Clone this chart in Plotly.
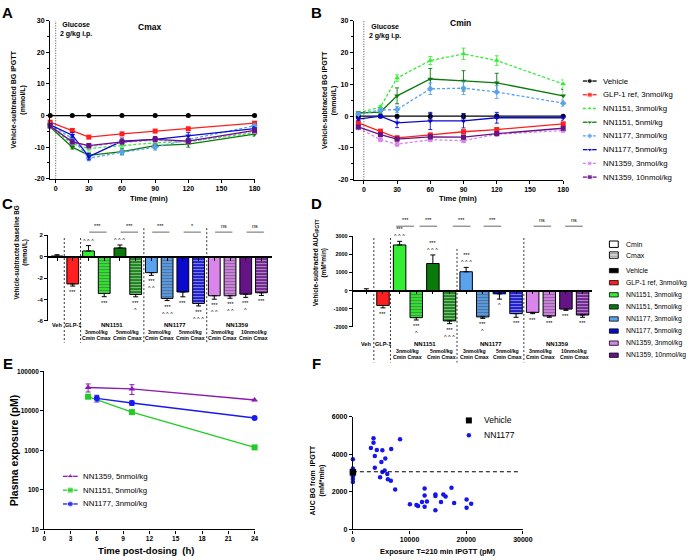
import plotly.graph_objects as go

FONT = "Liberation Sans, Arial, Helvetica, sans-serif"
W, H = 700, 560

# ======================= DATA =======================
time_min = [-5, 15, 30, 60, 90, 120, 180]

group_names = ["Vehicle", "GLP-1 ref, 3nmol/kg", "NN1151, 3nmol/kg", "NN1151, 5nml/kg",
               "NN1177, 3nmol/kg", "NN1177, 5nmol/kg", "NN1359, 3nmol/kg", "NN1359, 10nmol/kg"]
bar_legend_names = ["Vehicle", "GLP-1 ref, 3nmol/kg", "NN1151, 3nmol/kg", "NN1151, 5nmol/kg",
                    "NN1177, 3nmol/kg", "NN1177, 5nmol/kg", "NN1359, 3nmol/kg", "NN1359, 10nmol/kg"]
group_colors = ["#000000", "#FF1F1F", "#33EE33", "#0B7A0B", "#5AA2EE", "#0A0ACF", "#D985EC", "#651487"]
hatch_colors = ["#000000", "#B00000", "#0FA00F", "#024002", "#1E5FB0", "#00006E", "#F7D6FC", "#36074A"]
group_symbols = ["circle", "square", "triangle-up", "triangle-down", "diamond", "triangle-down", "circle", "square"]
group_dashed = [False, False, True, False, True, False, True, False]

# Panel A: Cmax IPGTT, vehicle-subtracted BG (mmol/L)
bg_cmax = [
    [0, 0, 0, 0, 0, 0, 0],
    [-2.1, -4.7, -6.8, -5.8, -4.9, -4.2, -2.4],
    [-3.4, -9.0, -10.4, -9.4, -8.6, -8.2, -5.5],
    [-3.6, -10.0, -12.6, -11.4, -9.5, -9.0, -5.9],
    [-3.0, -7.2, -13.5, -11.6, -10.0, -7.6, -3.2],
    [-2.9, -6.2, -13.0, -8.1, -7.5, -6.4, -4.1],
    [-3.5, -8.6, -9.8, -8.5, -7.8, -8.3, -5.0],
    [-3.3, -8.3, -9.5, -8.3, -7.5, -8.1, -4.7],
]
bg_cmax_err = [
    [0.3, 0.3, 0.3, 0.3, 0.3, 0.3, 0.3],
    [0.3, 0.5, 0.5, 0.5, 0.5, 0.5, 0.4],
    [0.4, 0.6, 0.8, 0.8, 0.8, 0.8, 0.6],
    [0.4, 0.6, 0.8, 0.9, 1.0, 1.0, 0.6],
    [0.4, 0.6, 0.8, 0.9, 0.9, 0.9, 0.6],
    [0.4, 0.8, 1.0, 1.0, 0.9, 1.0, 0.6],
    [0.4, 0.6, 0.7, 0.7, 0.7, 0.7, 0.5],
    [0.4, 0.6, 0.7, 0.7, 0.7, 0.7, 0.5],
]

# Panel B: Cmin IPGTT, vehicle-subtracted BG (mmol/L)
bg_cmin = [
    [0, 0, 0, 0, 0, 0, 0],
    [-2.1, -4.7, -6.8, -5.9, -4.9, -4.2, -2.4],
    [1.0, 2.9, 12.0, 17.5, 19.6, 17.5, 10.1],
    [1.0, 1.3, 6.4, 11.7, 11.1, 10.5, 6.4],
    [0.7, 1.9, 2.1, 8.6, 8.8, 7.6, 4.1],
    [-0.9, 0.0, -2.1, -1.5, -1.5, -0.5, -0.5],
    [-3.7, -7.4, -8.8, -7.4, -7.7, -5.7, -4.5],
    [-3.4, -5.8, -7.2, -6.5, -6.6, -5.5, -3.8],
]
bg_cmin_err = [
    [0.3, 0.3, 0.3, 0.9, 0.8, 0.6, 0.3],
    [0.3, 0.5, 0.5, 0.5, 0.5, 0.5, 0.4],
    [0.3, 0.5, 1.0, 1.3, 1.8, 1.5, 1.3],
    [0.4, 0.5, 2.5, 3.3, 3.2, 3.0, 2.0],
    [0.3, 0.6, 1.0, 1.8, 2.0, 2.0, 1.0],
    [0.4, 0.5, 1.5, 2.7, 2.2, 1.7, 0.8],
    [0.3, 0.5, 0.6, 0.6, 0.6, 0.5, 0.5],
    [0.3, 0.5, 0.6, 0.6, 0.6, 0.5, 0.5],
]

# Panels C / D: 14 bars (Veh, GLP-1, then Cmin/Cmax pairs)
bar_group = [0, 1, 2, 2, 3, 3, 4, 4, 5, 5, 6, 6, 7, 7]
bar_is_cmax = [False, False, False, True, False, True, False, True, False, True, False, True, False, True]

baseline_bg = [0.05, -2.55, 0.52, -3.44, 0.80, -3.53, -1.50, -3.90, -3.30, -4.37, -3.65, -3.65, -3.50, -3.37]
baseline_err = [0.12, 0.2, 0.5, 0.3, 0.28, 0.22, 0.25, 0.2, 0.45, 0.23, 0.32, 0.23, 0.3, 0.25]
baseline_star = ["", "***", "", "***", "", "***", "***", "***", "***", "***", "***", "***", "***", "***"]
baseline_caret = ["", "", "^ ^ ^", "", "^ ^ ^", "^", "^ ^", "^ ^ ^", "", "^ ^ ^", "^ ^", "^ ^", "^", ""]

auc_ipgtt = [0, -820, 2510, -1490, 1490, -1670, 1036, -1450, -180, -1270, -1200, -1400, -1020, -1345]
auc_err = [100, 130, 200, 130, 470, 150, 240, 80, 290, 200, 70, 70, 70, 125]
auc_star = ["", "***", "***", "***", "***", "***", "***", "***", "", "***", "***", "***", "***", "***"]
auc_caret = ["", "", "^ ^ ^", "^", "^ ^ ^", "^ ^ ^", "^ ^ ^", "^", "^", "", "", "", "", ""]

single_labels = ["Veh", "GLP-1"]
compound_labels = ["NN1151", "NN1177", "NN1359"]
dose_labels = ["3nmol/kg", "5nmol/kg", "3nmol/kg", "5nmol/kg", "3nmol/kg", "10nmol/kg"]
pair_text = "Cmin Cmax"

cmp_C = [(2, 3, "***"), (4, 5, "***"), (6, 7, "***"), (8, 9, "*"), (10, 11, "ns"), (12, 13, "ns")]
cmp_D_start = [1.8, 3.2, 5.2, 7.05, 10.05, 11.95]
cmp_D_text = ["***", "***", "***", "***", "ns", "ns"]
sep_C = [0.46, 1.5, 5.52, 9.52]
sep_D = [0.45, 1.45, 5.45, 9.47]

# Panel E: plasma exposure (pM)
pk_names = ["NN1359, 5nmol/kg", "NN1151, 5nmol/kg", "NN1177, 3nmol/kg"]
pk_colors = ["#8A1AB0", "#22CC22", "#1A1AF0"]
pk_symbols = ["triangle-up", "square", "circle"]
pk_time = [[5, 10, 24], [5, 10, 24], [6, 10, 24]]
pk_conc = [[39000, 36000, 18800], [22800, 9300, 1190], [20800, 15800, 6600]]
pk_err = [[9000, 10000, 800], [1200, 700, 100], [4000, 2000, 500]]
E_ticks = [10, 100, 1000, 10000, 100000]

# Panel F: AUC vs exposure
veh_exposure = [0]
veh_auc = [3040]
nn1177_exposure = [0, 0, 0, 0, 0, 3640, 3640, 3180, 4220, 5200, 6760, 8320, 3870, 5720, 5030, 3870, 5610,
                   5200, 6070, 4800, 6180, 6700, 7460, 10060, 11210, 11500, 12190, 12660, 12660, 12660,
                   13060, 14560, 14560, 14560, 15550, 15950, 16360, 17400, 17860, 20060, 20060, 20870]
nn1177_auc = [3737, 3247, 2826, 2684, 2526, 4860, 4614, 4333, 4228, 4211, 4281, 4807, 3912, 3772, 3596, 3281,
              3140, 3053, 2947, 2772, 2667, 2596, 2123, 1333, 1298, 1246, 1456, 2175, 1807, 1211, 1491,
              1860, 1772, 1018, 1456, 1860, 1754, 2211, 1403, 1597, 1158, 1368]
veh_mean_auc = 3070

# ======================= FIGURE =======================
fig = go.Figure()


def fy(p):
    return 1 - p / H


def fx(p):
    return p / W


TICKFONT = dict(family=FONT, size=7, color="black", weight="bold")


def axis(**kw):
    d = dict(showline=True, linecolor="black", linewidth=1.3, ticks="outside", ticklen=3,
             tickwidth=1.2, tickcolor="black", showgrid=False, zeroline=False,
             tickfont=TICKFONT, fixedrange=True)
    d.update(kw)
    return d


def ann(text, x, y, size=7, bold=False, xanchor="center", yanchor="middle", angle=0, color="black",
        xref="x7", yref="y7", yshift=0):
    fig.add_annotation(text=text, x=x, y=y, xref=xref, yref=yref, showarrow=False,
                       xanchor=xanchor, yanchor=yanchor, textangle=angle, yshift=yshift,
                       font=dict(family=FONT, size=size, color=color, weight="bold" if bold else "normal"))


# ---- Panels A and B: line charts ----
for (xa, ya, vals, errs) in [("x", "y", bg_cmax, bg_cmax_err), ("x2", "y2", bg_cmin, bg_cmin_err)]:
    for k in range(8):
        fig.add_trace(go.Scatter(
            x=time_min, y=vals[k], mode="lines+markers", xaxis=xa, yaxis=ya, showlegend=False,
            cliponaxis=False,
            line=dict(color=group_colors[k], width=1.3, dash="3px,2px" if group_dashed[k] else "solid"),
            marker=dict(symbol=group_symbols[k], size=5, color=group_colors[k]),
            error_y=dict(type="data", array=errs[k], color=group_colors[k], thickness=0.9, width=2)))

for xr, yr in [("x", "y"), ("x2", "y2")]:
    fig.add_shape(type="line", x0=0, x1=0, y0=-20, y1=30, xref=xr, yref=yr,
                  line=dict(color="black", width=0.7, dash="1px,1.5px"))

# ---- Panels C and D: bar charts ----
bar_x = list(range(len(bar_group)))
for (xa, ya, vals, errs) in [("x3", "y3", baseline_bg, baseline_err), ("x4", "y4", auc_ipgtt, auc_err)]:
    fig.add_trace(go.Bar(
        x=bar_x, y=vals, xaxis=xa, yaxis=ya, width=0.75, showlegend=False,
        marker=dict(color=[group_colors[g] for g in bar_group],
                    line=dict(color="black", width=1),
                    pattern=dict(shape=["-" if c else "" for c in bar_is_cmax],
                                 fgcolor=[hatch_colors[g] for g in bar_group],
                                 bgcolor=[group_colors[g] for g in bar_group],
                                 size=3, solidity=0.45)),
        error_y=dict(type="data", symmetric=False,
                     array=[e if v >= 0 else 0 for v, e in zip(vals, errs)],
                     arrayminus=[e if v < 0 else 0 for v, e in zip(vals, errs)],
                     color="black", thickness=1, width=2.5)))

# star/caret labels
for (xr, yr, vals, errs, stars, carets) in [
        ("x3", "y3", baseline_bg, baseline_err, baseline_star, baseline_caret),
        ("x4", "y4", auc_ipgtt, auc_err, auc_star, auc_caret)]:
    for i, (v, e, s, c) in enumerate(zip(vals, errs, stars, carets)):
        parts = [p for p in (s, c) if p]
        if not parts:
            continue
        if v >= 0:
            ann("<br>".join(parts), i, v + e, size=5.5, xanchor="center", yanchor="bottom",
                xref=xr, yref=yr, yshift=0)
        else:
            ann("<br>".join(parts), i, v - e, size=5.5, xanchor="center", yanchor="top",
                xref=xr, yref=yr, yshift=-1)

# comparison brackets C
for a, b, t in cmp_C:
    fig.add_shape(type="line", x0=a + 0.05, x1=b + 0.15, y0=231, y1=231, xref="x3", yref="y7",
                  line=dict(color="black", width=0.6))
    ann(t, (a + b) / 2 + 0.1, 229.5, size=5.5, xref="x3", yanchor="bottom")
# comparison brackets D
for s0, t in zip(cmp_D_start, cmp_D_text):
    fig.add_shape(type="line", x0=s0, x1=s0 + 1.06, y0=225, y1=225, xref="x4", yref="y7",
                  line=dict(color="black", width=0.6))
    ann(t, s0 + 0.53, 223.5, size=5.5, xref="x4", yanchor="bottom")

# group separators
for k, s in enumerate(sep_C):
    fig.add_shape(type="line", x0=s, x1=s, y0=237 if k < 2 else 227, y1=343, xref="x3", yref="y7",
                  line=dict(color="black", width=0.8, dash="2px,2px"))
for k, s in enumerate(sep_D):
    fig.add_shape(type="line", x0=s, x1=s, y0=[237, 237, 248, 237][k], y1=363, xref="x4", yref="y7",
                  line=dict(color="black", width=0.8, dash="2px,2px"))

# category labels under C and D
for xr, y_row in [("x3", [325, 332.5, 338.5]), ("x4", [344, 351, 357])]:
    for i, lab in enumerate(single_labels):
        ann(lab, i, y_row[0], size=5.5, bold=True, xref=xr)
    for j, lab in enumerate(compound_labels):
        ann(lab, 2 + 4 * j + 1.5, y_row[0], size=6, bold=True, xref=xr)
    for j, lab in enumerate(dose_labels):
        ann(lab, 2 + 2 * j + 0.5, y_row[1], size=5.2, bold=True, xref=xr)
        ann(pair_text, 2 + 2 * j + 0.5, y_row[2], size=5.2, bold=True, xref=xr)

# ---- Panel E ----
for k in range(3):
    fig.add_trace(go.Scatter(
        x=pk_time[k], y=pk_conc[k], mode="lines+markers", xaxis="x5", yaxis="y5", showlegend=False,
        cliponaxis=False,
        line=dict(color=pk_colors[k], width=1.3),
        marker=dict(symbol=pk_symbols[k], size=6, color=pk_colors[k]),
        error_y=dict(type="data", array=pk_err[k], color=pk_colors[k], thickness=1, width=2.5)))

# ---- Panel F ----
fig.add_shape(type="line", x0=0, x1=29500, y0=veh_mean_auc, y1=veh_mean_auc, xref="x6", yref="y6",
              line=dict(color="black", width=1.2, dash="4px,3px"))
fig.add_trace(go.Scatter(x=nn1177_exposure, y=nn1177_auc, mode="markers", xaxis="x6", yaxis="y6",
                         showlegend=False, cliponaxis=False,
                         marker=dict(symbol="circle", size=4.5, color="#1515F0")))
fig.add_trace(go.Scatter(x=veh_exposure, y=veh_auc, mode="markers", xaxis="x6", yaxis="y6",
                         showlegend=False, cliponaxis=False,
                         marker=dict(symbol="square", size=6.5, color="black")))

# ======================= LEGENDS (manual) =======================
# B legend
for k in range(8):
    yy = 78 + 13.9 * k
    fig.add_trace(go.Scatter(
        x=[591, 598, 605], y=[yy, yy, yy], mode="lines+markers", xaxis="x7", yaxis="y7",
        showlegend=False, cliponaxis=False,
        line=dict(color=group_colors[k], width=1.3, dash="3px,2px" if group_dashed[k] else "solid"),
        marker=dict(symbol=group_symbols[k], size=[0, 5, 0], color=group_colors[k])))
    ann(group_names[k], 609, yy, size=7.8, xanchor="left")

# D legend
fig.add_shape(type="rect", x0=618, x1=627, y0=240, y1=246.5, xref="x7", yref="y7",
              line=dict(color="black", width=1), fillcolor="white")
fig.add_shape(type="rect", x0=618, x1=627, y0=251, y1=257.5, xref="x7", yref="y7",
              line=dict(color="black", width=1), fillcolor="white")
for yy in (253, 255.3):
    fig.add_shape(type="line", x0=618, x1=627, y0=yy, y1=yy, xref="x7", yref="y7",
                  line=dict(color="#555555", width=0.8))
ann("Cmin", 633, 243.3, size=7, xanchor="left")
ann("Cmax", 633, 254.3, size=7, xanchor="left")
for k in range(8):
    yy = 270 + 12.24 * k
    fig.add_shape(type="rect", x0=618, x1=627, y0=yy - 2.2, y1=yy + 2.2, xref="x7", yref="y7",
                  line=dict(color="black", width=0.8), fillcolor=group_colors[k])
    ann(bar_legend_names[k], 633, yy, size=6.8, xanchor="left")

# E legend
for k in range(3):
    yy = 478.3 + 14 * k
    fig.add_trace(go.Scatter(
        x=[62, 69.5, 77], y=[yy, yy, yy], mode="lines+markers", xaxis="x7", yaxis="y7",
        showlegend=False, cliponaxis=False,
        line=dict(color=pk_colors[k], width=1.3),
        marker=dict(symbol=pk_symbols[k], size=[0, 6, 0], color=pk_colors[k])))
    ann(pk_names[k], 80, yy, size=7.8, xanchor="left")

# F legend
fig.add_trace(go.Scatter(x=[475], y=[421.7], mode="markers", xaxis="x7", yaxis="y7", showlegend=False,
                         marker=dict(symbol="square", size=6, color="black")))
fig.add_trace(go.Scatter(x=[475], y=[436.7], mode="markers", xaxis="x7", yaxis="y7", showlegend=False,
                         marker=dict(symbol="circle", size=4.5, color="#1515F0")))
ann("Vehicle", 488, 421.7, size=8.5, xanchor="left")
ann("NN1177", 488, 436.7, size=8.5, xanchor="left")

# ======================= TEXT =======================
for lab, x, y in [("A", 6, 9), ("B", 320, 9), ("C", 6, 202), ("D", 320, 202), ("E", 6, 364), ("F", 320, 364)]:
    ann(lab, x, y, size=15, bold=True)

ann("Glucose<br>2 g/kg i.p.", 57, 15, size=7, bold=True, xanchor="left", yanchor="top")
ann("Glucose<br>2 g/kg i.p.", 371.5, 17, size=7, bold=True, xanchor="left", yanchor="top")
ann("Cmax", 150, 23.5, size=8.5, bold=True)
ann("Cmin", 467, 19.5, size=8.5, bold=True)
ann("Time (min)", 150, 197, size=7.5, bold=True)
ann("Time (min)", 464, 197, size=7.5, bold=True)
ann("Vehicle-subtracted BG IPGTT<br>(mmol/L)", 17, 97, size=7, bold=True, angle=-90)
ann("Vehicle-subtracted BG IPGTT<br>(mmol/L)", 333, 97, size=7, bold=True, angle=-90)
ann("Vehicle-subtracted baseline BG<br>(mmol/L)", 19, 252, size=6.3, bold=True, angle=-90)
ann("Vehicle-subtracted AUC<sub>IPGTT</sub><br>(mM*min)", 323, 262, size=6.5, bold=True, angle=-90)
ann("Plasma exposure (pM)", 13, 452, size=10.5, bold=True, angle=-90)
ann("Time post-dosing  (h)", 147, 553, size=9.5, bold=True)
ann("AUC BG from  IPGTT<br>(mM*min)", 321, 483, size=7, bold=True, angle=-90)
ann("Exposure T=210 min IPGTT (pM)", 444, 554, size=7.5, bold=True)

# ======================= AXES =======================
A_yt = [-20, -10, 0, 10, 20, 30]
C_yt = [-6, -4, -2, 0, 2]
D_yt = [-2000, -1000, 0, 1000, 2000, 3000]
time_ticks = [0, 30, 60, 90, 120, 150, 180]

fig.update_layout(
    width=W, height=H, autosize=False, margin=dict(l=0, r=0, t=0, b=0),
    paper_bgcolor="white", plot_bgcolor="rgba(0,0,0,0)", showlegend=False,
    font=dict(family=FONT, color="black"),
    xaxis=axis(domain=[fx(49), fx(257)], range=[-5, 180], tickvals=time_ticks, anchor="y"),
    yaxis=axis(domain=[fy(177), fy(17)], range=[-20, 30], tickvals=A_yt, ticktext=[str(v) for v in A_yt],
               anchor="x", minor=dict(ticks="outside", dtick=5, ticklen=2, tickcolor="black")),
    xaxis2=axis(domain=[fx(358), fx(571)], range=[-9, 180], tickvals=time_ticks, anchor="y2"),
    yaxis2=axis(domain=[fy(178), fy(17)], range=[-20, 30], tickvals=A_yt, ticktext=[str(v) for v in A_yt],
                anchor="x2", minor=dict(ticks="outside", dtick=5, ticklen=2, tickcolor="black")),
    xaxis3=axis(domain=[fx(47), fx(275)], range=[-0.5625, 13.6875], tickvals=bar_x, showticklabels=False,
                anchor="free", position=fy(256), linewidth=1.5),
    yaxis3=axis(domain=[fy(321), fy(234)], range=[-6, 2], tickvals=C_yt, ticktext=[str(v) for v in C_yt],
                anchor="x3", tickfont=dict(family=FONT, size=6, color="black", weight="bold")),
    xaxis4=axis(domain=[fx(357), fx(600)], range=[-0.81, 13.55], tickvals=bar_x, showticklabels=False,
                anchor="free", position=fy(290.2), linewidth=1.5),
    yaxis4=axis(domain=[fy(327), fy(235)], range=[-2000, 3000], tickvals=D_yt,
                ticktext=[str(v) for v in D_yt], anchor="x4",
                tickfont=dict(family=FONT, size=5.5, color="black", weight="bold")),
    xaxis5=axis(domain=[fx(43), fx(257)], range=[0, 24], dtick=3, anchor="y5",
                tickfont=dict(family=FONT, size=6.5, color="black", weight="bold")),
    yaxis5=axis(domain=[fy(532), fy(372)], type="log", range=[1, 5], tickvals=E_ticks,
                ticktext=[str(v) for v in E_ticks], anchor="x5",
                tickfont=dict(family=FONT, size=6.5, color="black", weight="bold")),
    xaxis6=axis(domain=[fx(357), fx(530)], range=[0, 30000], tickvals=[0, 10000, 20000, 30000],
                ticktext=["0", "10000", "20000", "30000"], anchor="y6"),
    yaxis6=axis(domain=[fy(532), fy(418)], range=[0, 6000], tickvals=[0, 2000, 4000, 6000],
                ticktext=["0", "2000", "4000", "6000"], anchor="x6"),
    xaxis7=dict(domain=[0, 1], range=[0, W], visible=False, fixedrange=True, anchor="y7"),
    yaxis7=dict(domain=[0, 1], range=[H, 0], visible=False, fixedrange=True, anchor="x7"),
)

fig.write_html("out.html", config={"displayModeBar": False},
               post_script="document.body.style.margin='0px';")
